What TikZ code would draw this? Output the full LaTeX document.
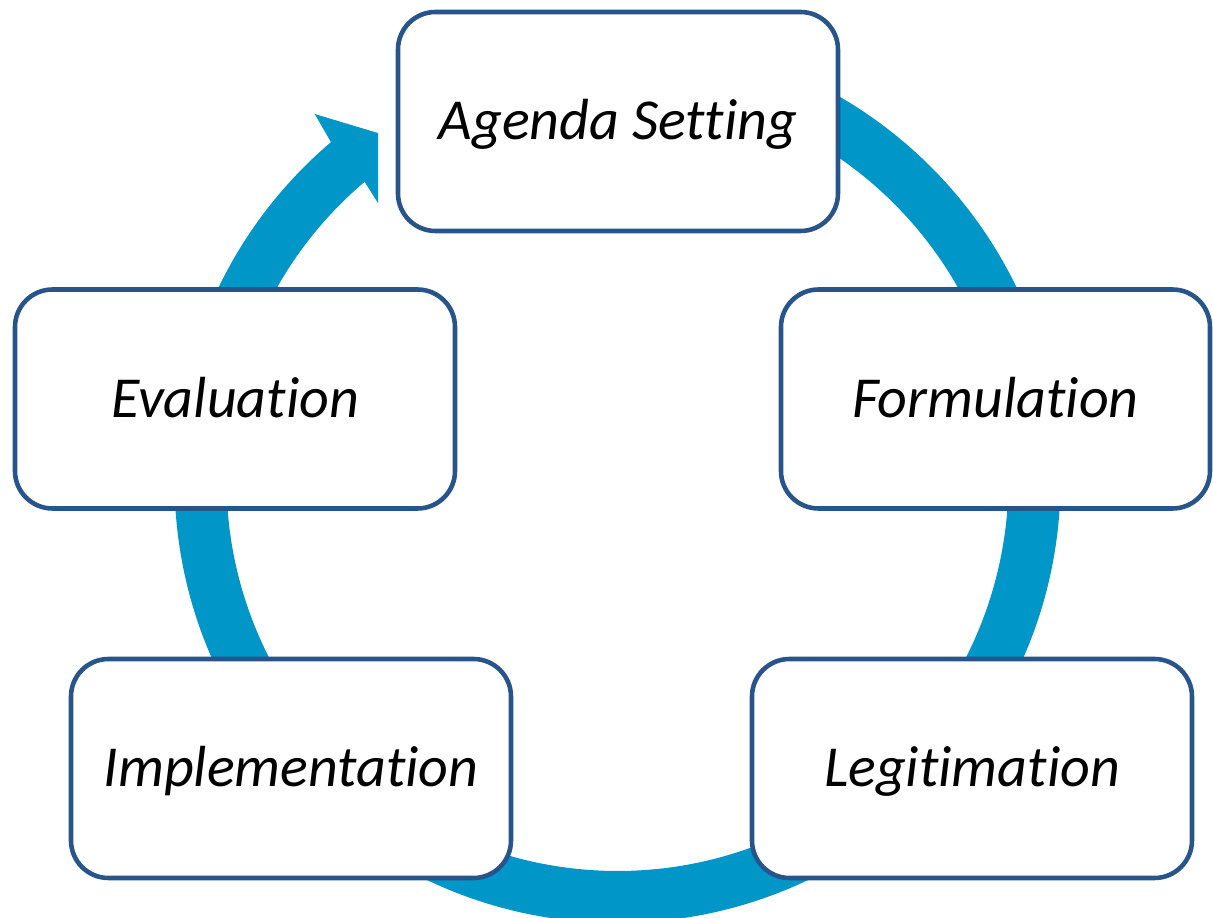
\documentclass[tikz,border=0pt]{standalone}
\usepackage{fontspec}
\setmainfont{Carlito}[Ligatures=NoCommon]
\usepackage{xcolor}
\usepackage{tikz}
\usetikzlibrary{positioning}
\definecolor{cycleblue}{RGB}{0, 150, 200}
\definecolor{boxblue}{RGB}{40, 84, 140}

\begin{document}
\begin{tikzpicture}[
  stage/.style={rectangle, rounded corners=0.75cm, draw=boxblue, line width=2.6pt,
    fill=white, minimum width=8.8cm, minimum height=4.38cm,
    text height=0.74cm, text depth=0pt,
    font=\fontsize{33}{38}\selectfont\itshape}]
\useasboundingbox (-12.35,-8.76) rectangle (11.91,9.6);

% the cycle ring with its arrow head
\fill[cycleblue] (95:8.86) arc[start angle=95, end angle=-229.7, radius=8.86]
  -- (129.6:9.50) -- (124.6:8.43) -- (130.85:7.32) -- (130.3:7.82)
  arc[start angle=-229.7, end angle=95, radius=7.82] -- cycle;

\node[stage] (agenda) at (0.01,7.17) {Agenda Setting};
\node[stage, minimum width=8.58cm] (formulation) at (7.56,1.62) {Formulation};
\node[stage] (legitimation) at (7.09,-5.77) {Legitimation};
\node[stage] (implementation) at (-6.53,-5.77) {Implementation};
\node[stage] (evaluation) at (-7.65,1.62) {Evaluation};
\end{tikzpicture}
\end{document}
